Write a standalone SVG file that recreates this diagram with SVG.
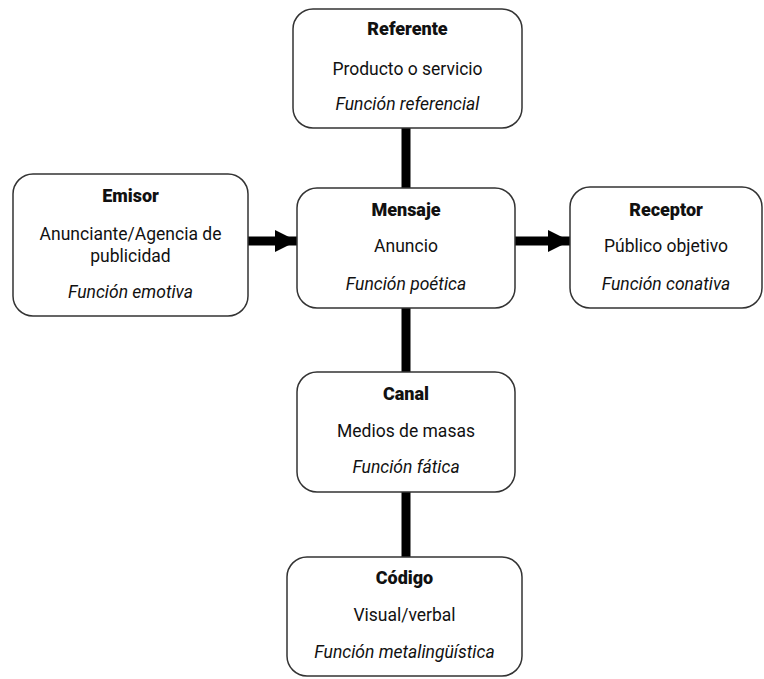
<svg xmlns="http://www.w3.org/2000/svg" width="764" height="679" viewBox="0 0 764 679">
<style>
.box{fill:#fff;stroke:#333;stroke-width:1.5}
text{font-family:Roboto,"Liberation Sans",sans-serif;font-size:17.5px;fill:#111;text-anchor:middle}
.t{font-weight:900;font-size:18px}
.i{font-style:italic}
.c{stroke:#000;stroke-width:9;fill:none}
</style>
<defs>
<marker id="ah" markerUnits="userSpaceOnUse" markerWidth="24" markerHeight="24" refX="22" refY="12" orient="auto">
<path d="M0,1 L22,12 L0,23 Z" fill="#000"/>
</marker>
</defs>
<g id="connectors">
<line class="c" x1="406" y1="128" x2="406" y2="188"/>
<line class="c" x1="406" y1="308" x2="406" y2="372"/>
<line class="c" x1="406" y1="492" x2="406" y2="557"/>
<line class="c" x1="248" y1="241" x2="297" y2="241" stroke-width="10" marker-end="url(#ah)"/>
<line class="c" x1="515" y1="241" x2="570" y2="241" stroke-width="10" marker-end="url(#ah)"/>
</g>
<g id="referente">
<rect class="box" x="293" y="9" width="229" height="119" rx="20"/>
<text class="t" x="407.5" y="35">Referente</text>
<text x="407.5" y="75">Producto o servicio</text>
<text class="i" x="407.5" y="110">Función referencial</text>
</g>
<g id="emisor">
<rect class="box" x="13" y="174" width="235" height="142" rx="20"/>
<text class="t" x="130.5" y="202">Emisor</text>
<text x="130.5" y="240">Anunciante/Agencia de</text>
<text x="130.5" y="262">publicidad</text>
<text class="i" x="130.5" y="298">Función emotiva</text>
</g>
<g id="mensaje">
<rect class="box" x="297" y="188" width="218" height="120" rx="20"/>
<text class="t" x="406" y="216">Mensaje</text>
<text x="406" y="252">Anuncio</text>
<text class="i" x="406" y="290">Función poética</text>
</g>
<g id="receptor">
<rect class="box" x="570" y="187" width="192" height="121" rx="20"/>
<text class="t" x="666" y="216">Receptor</text>
<text x="666" y="252">Público objetivo</text>
<text class="i" x="666" y="290">Función conativa</text>
</g>
<g id="canal">
<rect class="box" x="297" y="372" width="218" height="120" rx="20"/>
<text class="t" x="406" y="400">Canal</text>
<text x="406" y="437">Medios de masas</text>
<text class="i" x="406" y="473">Función fática</text>
</g>
<g id="codigo">
<rect class="box" x="287" y="557" width="235" height="119" rx="20"/>
<text class="t" x="404.5" y="584">Código</text>
<text x="404.5" y="621">Visual/verbal</text>
<text class="i" x="404.5" y="658">Función metalingüística</text>
</g>
</svg>
